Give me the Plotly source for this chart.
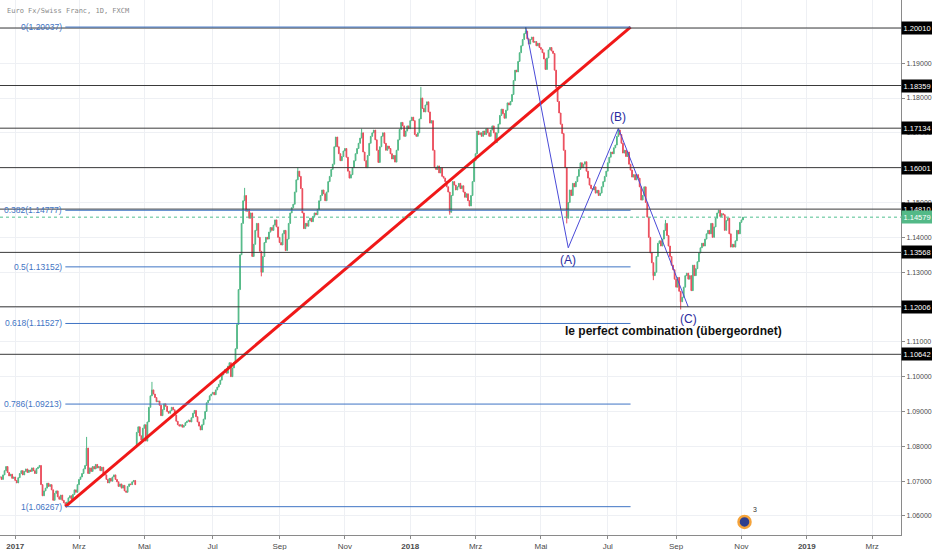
import pandas as pd
import plotly.graph_objects as go

# daily closes EUR/CHF (weekdays), one row per month
closes_2016_q4 = [1.0712, 1.0705, 1.0718, 1.0730, 1.0742, 1.0725, 1.0715, 1.0720, 1.0708, 1.0712]
closes_2017_q1 = [
    1.0702, 1.0695, 1.0710, 1.0722, 1.0730, 1.0718, 1.0728, 1.0735, 1.0725, 1.0732, 1.0728,
    1.0738, 1.0730, 1.0722, 1.0736, 1.0740, 1.0745, 1.0690, 1.0658, 1.0672, 1.0680, 1.0694,
    1.0685, 1.0690, 1.0675, 1.0645, 1.0665, 1.0672, 1.0655, 1.0648, 1.0660, 1.0645,
    1.0638, 1.0632, 1.0640, 1.0652, 1.0658, 1.0648, 1.0662, 1.0675, 1.0668, 1.0690,
    1.0705, 1.0712, 1.0722, 1.0735, 1.0745, 1.0795, 1.0722, 1.0738, 1.0728, 1.0742, 1.0735, 1.0748,
    1.0738, 1.0742, 1.0730, 1.0740, 1.0722, 1.0718, 1.0705, 1.0695, 1.0708, 1.0700, 1.0712,
]
closes_2017_q2 = [
    1.0718, 1.0705, 1.0698, 1.0685, 1.0692, 1.0680, 1.0688, 1.0672, 1.0668, 1.0685,
    1.0692, 1.0690, 1.0698, 1.0702, 1.0690, 1.0840, 1.0856, 1.0830, 1.0818, 1.0852,
    1.0862, 1.0815, 1.0870, 1.0912, 1.0945, 1.0962, 1.0950, 1.0940, 1.0928, 1.0930, 1.0918, 1.0888,
    1.0905, 1.0922, 1.0915, 1.0900, 1.0895, 1.0902, 1.0912, 1.0905, 1.0890, 1.0872, 1.0862,
    1.0858, 1.0862, 1.0855, 1.0860, 1.0868, 1.0872, 1.0875, 1.0870, 1.0882, 1.0895, 1.0903,
    1.0885, 1.0870, 1.0858, 1.0847, 1.0862, 1.0878, 1.0900, 1.0925, 1.0932, 1.0945, 1.0950,
]
closes_2017_q3 = [
    1.0955, 1.0948, 1.0962, 1.0970, 1.0978, 1.0990, 1.1005, 1.1012, 1.1020, 1.1010, 1.1030,
    1.1040, 1.1000, 1.1025, 1.1040, 1.1080, 1.1150, 1.1250, 1.1350, 1.1440, 1.1505,
    1.1520, 1.1475, 1.1480, 1.1455, 1.1470, 1.1345, 1.1380, 1.1420, 1.1440, 1.1400, 1.1360, 1.1300,
    1.1345, 1.1385, 1.1400, 1.1395, 1.1415, 1.1428, 1.1420, 1.1435, 1.1450, 1.1430, 1.1400,
    1.1385, 1.1378, 1.1410, 1.1420, 1.1362, 1.1395, 1.1440, 1.1470, 1.1485, 1.1495, 1.1530,
    1.1565, 1.1590, 1.1575, 1.1540, 1.1470, 1.1425, 1.1440, 1.1432, 1.1448, 1.1455,
]
closes_2017_q4 = [
    1.1445, 1.1460, 1.1470, 1.1465, 1.1480, 1.1505, 1.1520, 1.1536, 1.1525, 1.1505, 1.1530,
    1.1560, 1.1575, 1.1595, 1.1610, 1.1660, 1.1688, 1.1660, 1.1640, 1.1620, 1.1632, 1.1648,
    1.1655, 1.1630, 1.1590, 1.1570, 1.1580, 1.1600, 1.1620, 1.1640, 1.1655, 1.1670, 1.1685,
    1.1700, 1.1645, 1.1620, 1.1600, 1.1635, 1.1670, 1.1690, 1.1700, 1.1708, 1.1680, 1.1650,
    1.1615, 1.1660, 1.1690, 1.1700, 1.1670, 1.1650, 1.1662, 1.1655, 1.1640, 1.1625, 1.1635,
    1.1616, 1.1650, 1.1680, 1.1710, 1.1730, 1.1720, 1.1690, 1.1705, 1.1720, 1.1712,
]
closes_2018_q1 = [
    1.1735, 1.1745, 1.1735, 1.1695, 1.1690, 1.1700, 1.1740, 1.1800, 1.1770, 1.1760, 1.1780, 1.1789,
    1.1760, 1.1728, 1.1735, 1.1650, 1.1600, 1.1595, 1.1605, 1.1585, 1.1600, 1.1575, 1.1570,
    1.1560, 1.1545, 1.1530, 1.1472, 1.1520, 1.1560, 1.1550, 1.1536, 1.1545, 1.1555,
    1.1540, 1.1548, 1.1530, 1.1515, 1.1525, 1.1505, 1.1490, 1.1520, 1.1560, 1.1620,
    1.1640, 1.1705, 1.1695, 1.1700, 1.1690, 1.1705, 1.1695, 1.1712, 1.1700, 1.1690, 1.1708,
    1.1720, 1.1700, 1.1672, 1.1700, 1.1725, 1.1750, 1.1768, 1.1755, 1.1742, 1.1765, 1.1786,
]
closes_2018_q2 = [
    1.1780, 1.1790, 1.1810, 1.1850, 1.1880, 1.1875, 1.1905, 1.1930, 1.1950, 1.1968, 1.1985,
    1.1992, 1.1970, 1.1955, 1.1968, 1.1975, 1.1960, 1.1962, 1.1950, 1.1957, 1.1945,
    1.1940, 1.1930, 1.1912, 1.1882, 1.1915, 1.1938, 1.1945, 1.1935, 1.1928, 1.1880, 1.1830, 1.1790,
    1.1757, 1.1725, 1.1698, 1.1650, 1.1600, 1.1455, 1.1500, 1.1536, 1.1520, 1.1555, 1.1545,
    1.1560, 1.1575, 1.1595, 1.1614, 1.1600, 1.1610, 1.1617, 1.1590, 1.1570, 1.1550, 1.1540,
    1.1536, 1.1545, 1.1527, 1.1535, 1.1520, 1.1527, 1.1545, 1.1560, 1.1575, 1.1590,
]
closes_2018_q3 = [
    1.1614, 1.1630, 1.1645, 1.1640, 1.1657, 1.1665, 1.1690, 1.1708, 1.1695, 1.1670, 1.1642,
    1.1650, 1.1632, 1.1645, 1.1610, 1.1593, 1.1573, 1.1580, 1.1565, 1.1580, 1.1570, 1.1545,
    1.1507, 1.1520, 1.1545, 1.1500, 1.1458, 1.1400, 1.1355, 1.1327, 1.1290, 1.1300, 1.1345, 1.1383,
    1.1390, 1.1375, 1.1395, 1.1420, 1.1440, 1.1405, 1.1375, 1.1345, 1.1320, 1.1307, 1.1280,
    1.1257, 1.1285, 1.1245, 1.1215, 1.1228, 1.1257, 1.1290, 1.1297, 1.1280, 1.1290,
    1.1247, 1.1320, 1.1290, 1.1310, 1.1330, 1.1355, 1.1370, 1.1383, 1.1375, 1.1395,
]
closes_2018_q4 = [
    1.1410, 1.1420, 1.1410, 1.1440, 1.1400, 1.1430, 1.1455, 1.1470, 1.1478, 1.1460, 1.1468, 1.1465,
    1.1420, 1.1448, 1.1455, 1.1410, 1.1372, 1.1380, 1.1372, 1.1390, 1.1420, 1.1410, 1.1443,
    1.1450, 1.14579,
]

# weekend gap open and the wick extremes that stand out
gap_open = {"2017-04-24": 1.0800}
wick_high = {"2017-03-08": 1.0827, "2017-05-08": 1.0985, "2017-08-01": 1.1542, "2017-09-19": 1.1600,
             "2017-11-16": 1.1712, "2018-01-10": 1.1832, "2018-04-17": 1.20037, "2018-07-11": 1.1713,
             "2018-08-23": 1.1450}
wick_low = {"2017-02-16": 1.06267, "2017-08-16": 1.1288, "2018-02-06": 1.1465, "2018-05-24": 1.1440,
            "2018-08-13": 1.1277, "2018-09-06": 1.1193}

# drawings
levels = [1.20010, 1.18359, 1.17134, 1.16001, 1.14810, 1.13568, 1.12006, 1.10642]
last_price = 1.14579
fib_ratio = ["0", "0.382", "0.5", "0.618", "0.786", "1"]
fib_price = [1.20037, 1.14777, 1.13152, 1.11527, 1.09213, 1.06267]
fib_x = ["2017-02-16", "2018-07-23"]
trend_x = ["2017-02-16", "2018-07-23"]
trend_y = [1.06267, 1.20037]
wave_x = ["2018-04-17", "2018-05-25", "2018-07-11", "2018-09-13"]
wave_y = [1.20037, 1.1370, 1.1713, 1.1200]
wave_lbl = ["", "(A)", "(B)", "(C)"]
note_x, note_y = "2018-08-30", 1.1131
note = "le perfect combination (übergeordnet)"
badge_x, badge_y = "2018-11-05", 1.0583

tick_dates = ["2017-01-02", "2017-03-01", "2017-05-01", "2017-07-03", "2017-09-01", "2017-11-01",
              "2018-01-01", "2018-03-01", "2018-05-01", "2018-07-02", "2018-09-03", "2018-11-01",
              "2019-01-01", "2019-03-01"]
tick_text = ["<b>2017</b>", "Mrz", "Mai", "Jul", "Sep", "Nov", "<b>2018</b>", "Mrz", "Mai", "Jul",
             "Sep", "Nov", "<b>2019</b>", "Mrz"]

closes = (closes_2016_q4 + closes_2017_q1 + closes_2017_q2 + closes_2017_q3 + closes_2017_q4
          + closes_2018_q1 + closes_2018_q2 + closes_2018_q3 + closes_2018_q4)
dates = pd.bdate_range("2016-12-19", "2018-11-02")
assert len(dates) == len(closes), (len(dates), len(closes))

df = pd.DataFrame({"close": closes}, index=dates)
df["open"] = df["close"].shift(1).fillna(df["close"].iloc[0])
for d, v in gap_open.items():
    df.loc[d, "open"] = v
df["high"] = df[["open", "close"]].max(axis=1)
df["low"] = df[["open", "close"]].min(axis=1)
for d, v in wick_high.items():
    df.loc[d, "high"] = v
for d, v in wick_low.items():
    df.loc[d, "low"] = v

FONT = "Liberation Sans"
BLUE = "#3f74c4"

fig = go.Figure(go.Candlestick(x=df.index, open=df["open"], high=df["high"], low=df["low"],
                               close=df["close"],
                               increasing=dict(line=dict(color="#53b987", width=1), fillcolor="#53b987"),
                               decreasing=dict(line=dict(color="#eb4d5c", width=1), fillcolor="#eb4d5c"),
                               showlegend=False, hoverinfo="skip"))

for p in levels:
    fig.add_hline(y=p, line=dict(color="#3a3a3a", width=1))
fig.add_hline(y=last_price, line=dict(color="#4fbf8f", width=1, dash="dot"))

for r, p in zip(fib_ratio, fib_price):
    fig.add_shape(type="line", xref="x", yref="y", x0=fib_x[0], x1=fib_x[1], y0=p, y1=p,
                  line=dict(color=BLUE, width=1))
    fig.add_annotation(x=fib_x[0], y=p, text=f"{r}({p:.5f})", showarrow=False, xanchor="right",
                       yanchor="middle", xshift=-1, font=dict(family=FONT, size=8.5, color=BLUE))

fig.add_trace(go.Scatter(x=trend_x, y=trend_y, mode="lines", line=dict(color="#f01818", width=3),
                         showlegend=False, hoverinfo="skip"))
fig.add_trace(go.Scatter(x=wave_x, y=wave_y, mode="lines", line=dict(color="#4a4ad8", width=1),
                         showlegend=False, hoverinfo="skip"))

for x, y, t in zip(wave_x, wave_y, wave_lbl):
    if not t:
        continue
    up = t == "(B)"
    fig.add_annotation(x=x, y=y, text=t, showarrow=False, yanchor="bottom" if up else "top",
                       yshift=2 if up else -3, font=dict(family=FONT, size=12, color="#2b2ba0"))

fig.add_annotation(x=note_x, y=note_y, text=f"<b>{note}</b>", showarrow=False,
                   font=dict(family=FONT, size=12, color="#111111"))

# price boxes on the axis
for p in levels:
    fig.add_annotation(xref="paper", x=1, y=p, text=f"{p:.5f}", showarrow=False, xanchor="left",
                       bgcolor="#000000", borderpad=1.5, font=dict(family=FONT, size=7.5, color="white"))
fig.add_annotation(xref="paper", x=1, y=last_price, text=f"{last_price:.5f}", showarrow=False,
                   xanchor="left", bgcolor="#53b987", borderpad=1.5,
                   font=dict(family=FONT, size=7.5, color="white"))

fig.add_trace(go.Scatter(x=[badge_x], y=[badge_y], mode="markers+text", text=["3"],
                         textposition="top right", textfont=dict(size=7, color="#333"),
                         marker=dict(size=12, color="#2e3f8f", line=dict(color="#f5a33a", width=2.5)),
                         showlegend=False, hoverinfo="skip"))

fig.add_annotation(xref="paper", yref="paper", x=0.005, y=0.99, text="Euro Fx/Swiss Franc, 1D, FXCM",
                   showarrow=False, xanchor="left", yanchor="top",
                   font=dict(family="DejaVu Sans Mono", size=7, color="#8a8a8a"))

fig.update_layout(width=932, height=550, margin=dict(l=0, r=31, t=0, b=15),
                  paper_bgcolor="white", plot_bgcolor="white", xaxis_rangeslider_visible=False,
                  font=dict(family=FONT))
fig.update_xaxes(type="date", range=["2016-12-19", "2019-03-28"],
                 rangebreaks=[dict(bounds=["sat", "mon"])],
                 tickvals=tick_dates, ticktext=tick_text, showgrid=True, gridcolor="#eef0f4",
                 showline=True, linecolor="#8a8a8a", ticks="outside", ticklen=3, tickcolor="#8a8a8a",
                 tickfont=dict(size=8, color="#4a4a4a"), zeroline=False)
fig.update_yaxes(side="right", range=[1.05454, 1.20814], tick0=1.0, dtick=0.01, tickformat=".5f",
                 showgrid=True, gridcolor="#eef0f4", showline=True, linecolor="#8a8a8a",
                 ticks="outside", ticklen=3, tickcolor="#8a8a8a", automargin=False,
                 tickfont=dict(size=7, color="#4a4a4a"), zeroline=False)

fig.write_html("out.html", config={"displayModeBar": False},
               post_script="document.body.style.margin='0px';")
